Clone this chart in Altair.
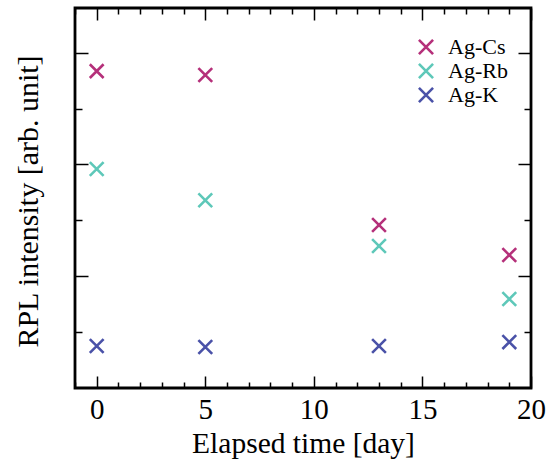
import altair as alt
import pandas as pd

# ---- data ----
days = [0, 5, 13, 19]
ag_cs = [2.835, 2.800, 1.458, 1.190]
ag_rb = [1.959, 1.680, 1.270, 0.796]
ag_k = [0.376, 0.367, 0.376, 0.411]
series = ["Ag-Cs", "Ag-Rb", "Ag-K"]
colors = ["#b5307a", "#5ec8b9", "#4a52a8"]

x_major = [0, 5, 10, 15, 20]
x_minor = [v for v in range(-1, 21) if v % 5 != 0]
y_major = [1, 2, 3]
y_minor = [0.5, 1.5, 2.5]

rows = []
for name, vals in zip(series, [ag_cs, ag_rb, ag_k]):
    for d, v in zip(days, vals):
        rows.append({"day": d, "val": v, "sample": name})
df = pd.DataFrame(rows)

FONT = "Liberation Serif"
XPATH = "M-1,-1L1,1M-1,1L1,-1"
xs = alt.Scale(domain=[-1, 20], nice=False, zero=False)
ys = alt.Scale(domain=[0, 3.4], nice=False, zero=False)


def tick_axis(orient, values, size):
    return alt.Axis(orient=orient, values=values, tickSize=size, offset=-size,
                    labels=False, domain=False, grid=False, ticks=True,
                    tickColor="black", tickWidth=1.5)


base = alt.Chart(df)

main = base.mark_point(shape=XPATH, filled=False, size=190, strokeWidth=2.6, opacity=1).encode(
    x=alt.X("day:Q", scale=xs, title="Elapsed time [day]",
            axis=alt.Axis(orient="bottom", values=x_major, ticks=False, domain=False,
                          grid=False, labelPadding=7, labelFontSize=29, labelFont=FONT,
                          labelColor="black", format="d", labelFlush=False,
                          labelBound=False, titleFont=FONT,
                          titleFontSize=29.5, titleFontWeight="normal", titleColor="black",
                          titleBaseline="alphabetic", titleY=64)),
    y=alt.Y("val:Q", scale=ys, title="RPL intensity [arb. unit]",
            axis=alt.Axis(orient="left", labels=False, ticks=False, domain=False,
                          grid=False, titleFont=FONT, titleFontSize=30,
                          titleFontWeight="normal", titleColor="black",
                          titleBaseline="alphabetic", titleX=-38, titleY=193)),
    color=alt.Color("sample:N", scale=alt.Scale(domain=series, range=colors),
                    legend=alt.Legend(orient="none", legendX=340, legendY=28, title=None,
                                      symbolType=XPATH, symbolSize=200,
                                      symbolStrokeWidth=2.6, labelFont=FONT,
                                      labelFontSize=22, labelColor="black",
                                      labelOffset=11, rowPadding=-4, padding=0)),
)


def ghost(xaxis, yaxis):
    return base.mark_point(opacity=0).encode(
        x=alt.X("day:Q", scale=xs, title="", axis=xaxis),
        y=alt.Y("val:Q", scale=ys, title="", axis=yaxis),
    )


layers = [
    main,
    ghost(tick_axis("bottom", x_major, 12), tick_axis("left", y_major, 13)),
    ghost(tick_axis("bottom", x_minor, 6), tick_axis("left", y_minor, 7)),
    ghost(tick_axis("top", x_major, 12), tick_axis("right", y_major, 13)),
    ghost(tick_axis("top", x_minor, 6), tick_axis("right", y_minor, 7)),
]

chart = alt.layer(*layers).resolve_axis(x="independent", y="independent").properties(
    width=456, height=380,
    background="white",
    autosize=alt.AutoSizeParams(type="none"),
    padding={"left": 75, "top": 8, "right": 20, "bottom": 73},
).configure_view(stroke="black", strokeWidth=2.8)

chart.save("out.html", embed_options={"renderer": "svg", "actions": False})
